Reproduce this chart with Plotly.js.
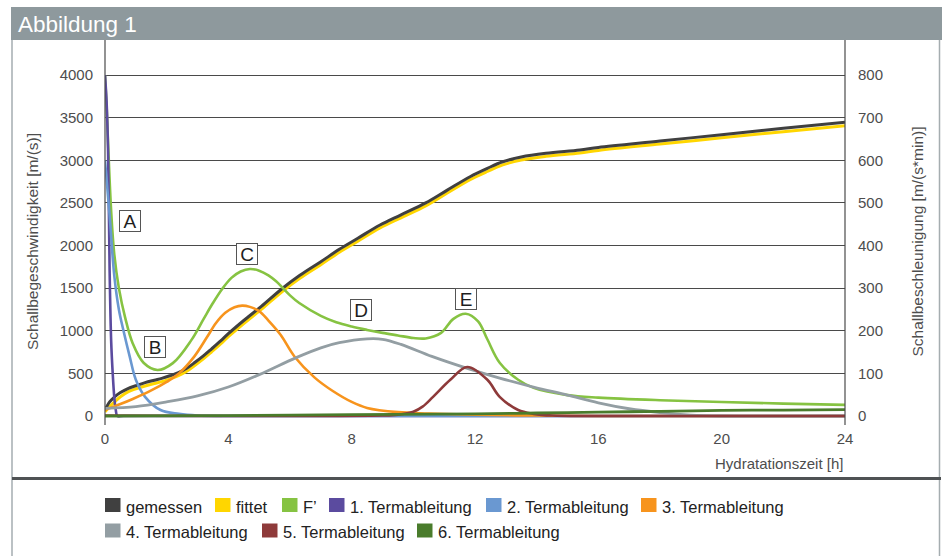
<!DOCTYPE html>
<html>
<head>
<meta charset="utf-8">
<script src="https://cdn.plot.ly/plotly-3.0.1.min.js"></script>
<style>
  html, body { margin: 0; padding: 0; background: #ffffff; }
  #chart { width: 943px; height: 556px; }
</style>
</head>
<body>
<div id="chart"></div>
<script>
// ---------- data ----------
const seriesNames = ["gemessen", "fittet", "F’", "1. Termableitung", "2. Termableitung",
                     "3. Termableitung", "4. Termableitung", "5. Termableitung", "6. Termableitung"];
const seriesColors = ["#404040", "#ffd600", "#86c342", "#5b4b9f", "#6a98d1",
                      "#f7941d", "#939ea3", "#8e3a3a", "#4a7c2c"];

// Schallgeschwindigkeit [m/s] (left axis)
const gemessenT = [0, 0.15, 0.32, 0.5, 0.76, 1.0, 1.3, 1.6, 1.84, 2.1, 2.38, 2.65, 2.92, 3.2, 3.46, 3.75, 4.0, 4.5, 5.07, 5.73, 6.32, 7.0, 7.6, 8.2, 8.92, 9.6, 10.4, 11.1, 11.84, 12.4, 12.9, 13.5, 14.3, 15.4, 16, 18, 20, 22, 24];
const gemessenV = [70, 165, 226, 275, 325, 355, 391, 420, 442, 472, 508, 560, 630, 708, 788, 880, 965, 1120, 1285, 1490, 1650, 1810, 1955, 2085, 2240, 2360, 2500, 2650, 2807, 2905, 2982, 3038, 3081, 3120, 3150, 3225, 3300, 3375, 3445];
const fittetT = gemessenT;
const fittetV = [50, 110, 168, 225, 285, 318, 352, 382, 403, 435, 473, 525, 595, 673, 753, 845, 930, 1085, 1250, 1455, 1615, 1775, 1920, 2050, 2205, 2325, 2465, 2615, 2772, 2868, 2945, 3003, 3046, 3085, 3115, 3190, 3263, 3335, 3405];

// Schallbeschleunigung [m/(s*min)] (right axis)
const fStrichT = [0, 0.05, 0.1, 0.2, 0.3, 0.45, 0.65, 0.9, 1.25, 1.7, 2.2, 2.8, 3.2, 3.5, 3.8, 4.1, 4.4, 4.7, 5.0, 5.3, 5.55, 5.77, 6.0, 6.3, 7.0, 7.5, 8.0, 8.5, 9.0, 9.5, 10.0, 10.4, 10.9, 11.3, 11.7, 12.1, 12.4, 12.8, 13.4, 13.9, 15, 16, 18, 20, 22, 24];
const fStrichV = [800, 730, 640, 480, 380, 300, 232, 170, 125, 108, 124, 178, 228, 265, 298, 324, 339, 345, 341, 330, 316, 300, 283, 265, 235, 220, 210, 202, 195, 189, 183, 182, 195, 228, 240, 222, 180, 125, 85, 66, 49, 43, 37, 33, 29, 26];

const abl1T = [0, 0.05, 0.1, 0.15, 0.2, 0.25, 0.3, 0.35, 0.4, 0.6, 24];
const abl1V = [800, 740, 620, 340, 175, 100, 45, 14, 0, 0, 0];

const abl2T = [0, 0.15, 0.3, 0.45, 0.6, 0.8, 1.0, 1.3, 1.8, 2.4, 3, 4, 24];
const abl2V = [600, 470, 330, 250, 200, 140, 85, 45, 14, 5, 1, 0, 0];

const abl3T = [0, 0.5, 0.9, 1.5, 2.0, 2.4, 2.9, 3.3, 3.6, 3.9, 4.2, 4.45, 4.7, 5.0, 5.3, 5.7, 6.15, 6.8, 7.4, 8.0, 8.5, 9.5, 10.5, 12, 14, 16, 24];
const abl3V = [14, 28, 40, 60, 80, 100, 140, 184, 218, 242, 255, 259, 256, 246, 224, 190, 139, 90, 58, 33, 19, 9, 6, 3, 1, 0, 0];

const abl4T = [0, 1, 2, 3, 4, 5, 6.2, 7.0, 7.6, 8.5, 9.0, 9.6, 10.6, 11.7, 12.8, 13.9, 15, 16, 17, 18, 19, 20, 24];
const abl4V = [18, 22, 33, 47, 68, 97, 137, 160, 172, 181, 180, 168, 140, 113, 89, 68, 49, 31, 17, 8, 2, 0, 0];

const abl5T = [0, 9, 9.5, 10, 10.3, 10.64, 11.2, 11.75, 12.4, 12.8, 13.4, 13.9, 14.5, 16, 24];
const abl5V = [1, 1, 3, 10, 22, 45, 85, 115, 85, 45, 14, 5, 1, 0, 0];

const abl6T = [0, 4, 8, 12, 14, 16, 18, 20, 22, 24];
const abl6V = [0, 1, 3, 5, 7, 9, 11, 13, 14, 15];

// axis ticks / labels
const xTicks = [0, 4, 8, 12, 16, 20, 24];
const yLeftTicks = [0, 500, 1000, 1500, 2000, 2500, 3000, 3500, 4000];
const yRightTicks = [0, 100, 200, 300, 400, 500, 600, 700, 800];
const markerLabels = ["A", "B", "C", "D", "E"];
const markerX = [0.81, 1.61, 4.59, 8.29, 11.72];
const markerY = [2287, 809, 1900, 1243, 1372];

// ---------- geometry helpers (layout only) ----------
const W = 943, H = 556;
const PL = 105, PR = 845, PT = 58, PB = 425;
const px2x = p => (p - PL) / (PR - PL);
const px2y = p => (PB - p) / (PB - PT);

const allSeries = [
  [gemessenT, gemessenV, 'y', 3],
  [fittetT, fittetV, 'y', 3],
  [fStrichT, fStrichV, 'y2', 2.6],
  [abl1T, abl1V, 'y2', 2.6],
  [abl2T, abl2V, 'y2', 2.6],
  [abl3T, abl3V, 'y2', 2.6],
  [abl4T, abl4V, 'y2', 2.8],
  [abl5T, abl5V, 'y2', 2.6],
  [abl6T, abl6V, 'y2', 2.8]
];

// draw fittet below gemessen
const drawOrder = [1, 0, 2, 3, 4, 5, 6, 7, 8];
const traces = drawOrder.map(i => ({
  type: 'scatter',
  mode: 'lines',
  name: seriesNames[i],
  x: allSeries[i][0],
  y: allSeries[i][1],
  yaxis: allSeries[i][2],
  line: { color: seriesColors[i], width: allSeries[i][3], shape: 'spline', smoothing: 1.0 },
  showlegend: false,
  hoverinfo: 'skip'
}));

const shapes = [];
const annotations = [];

// header band
shapes.push({ type: 'rect', xref: 'paper', yref: 'paper', layer: 'below',
  x0: px2x(11), x1: px2x(942), y0: px2y(40), y1: px2y(7),
  fillcolor: '#8e999d', line: { width: 0 } });
// frame lines
shapes.push({ type: 'line', xref: 'paper', yref: 'paper', x0: px2x(12), x1: px2x(12), y0: px2y(40), y1: px2y(556),
  line: { color: '#a5adb0', width: 1.5 } });
shapes.push({ type: 'line', xref: 'paper', yref: 'paper', x0: px2x(939.5), x1: px2x(939.5), y0: px2y(40), y1: px2y(556),
  line: { color: '#a5adb0', width: 1.5 } });
shapes.push({ type: 'line', xref: 'paper', yref: 'paper', x0: px2x(12), x1: px2x(941), y0: px2y(478.5), y1: px2y(478.5),
  line: { color: '#4f5254', width: 3 } });
// y axis lines (extend up to header)
shapes.push({ type: 'line', xref: 'paper', yref: 'paper', x0: 0, x1: 0, y0: 0, y1: px2y(40),
  line: { color: '#4a4a4a', width: 1.2 } });
shapes.push({ type: 'line', xref: 'paper', yref: 'paper', x0: 1, x1: 1, y0: 0, y1: px2y(40),
  line: { color: '#4a4a4a', width: 1.2 } });

// x axis title (right aligned under axis)
annotations.push({ xref: 'paper', yref: 'paper', x: 1, y: px2y(463), xanchor: 'right', yanchor: 'middle',
  text: 'Hydratationszeit [h]', showarrow: false,
  font: { family: 'Liberation Sans, Arial, sans-serif', size: 15, color: '#4d4d4d' } });

// boxed markers A-E
markerLabels.forEach((t, i) => {
  annotations.push({ xref: 'x', yref: 'y', x: markerX[i], y: markerY[i], text: t, showarrow: false,
    xanchor: 'center', yanchor: 'middle', width: 20, height: 20, borderpad: 0,
    bordercolor: '#555555', borderwidth: 1, bgcolor: '#ffffff',
    font: { family: 'Liberation Sans, Arial, sans-serif', size: 19, color: '#1e1e1e' } });
});

// legend (two rows, square swatches)
const legRows = [0, 0, 0, 0, 0, 0, 1, 1, 1];
const legSqX = [105, 215, 282, 329, 486, 641, 105, 262, 417];
const legRowY = [505, 530.5];
seriesNames.forEach((n, i) => {
  const cy = legRowY[legRows[i]];
  const sx = legSqX[i];
  shapes.push({ type: 'rect', xref: 'paper', yref: 'paper',
    x0: px2x(sx), x1: px2x(sx + 15.5), y0: px2y(cy + 7), y1: px2y(cy - 7),
    fillcolor: seriesColors[i], line: { width: 0 } });
  annotations.push({ xref: 'paper', yref: 'paper', x: px2x(sx + 19), y: px2y(cy + 1.5),
    xanchor: 'left', yanchor: 'middle', text: n, showarrow: false,
    font: { family: 'Liberation Sans, Arial, sans-serif', size: 16.5, color: '#222222' } });
});

const axisFont = { family: 'Liberation Sans, Arial, sans-serif', size: 15, color: '#4d4d4d' };
const layout = {
  width: W, height: H,
  margin: { l: PL, r: W - PR, t: PT, b: H - PB, pad: 0 },
  paper_bgcolor: '#ffffff',
  plot_bgcolor: '#ffffff',
  showlegend: false,
  title: { text: 'Abbildung 1', xref: 'container', yref: 'container', x: 18 / W, xanchor: 'left',
           y: 1 - 24 / H, yanchor: 'middle',
           font: { family: 'Liberation Sans, Arial, sans-serif', size: 22.5, color: '#ffffff' } },
  xaxis: {
    range: [0, 24], tickvals: xTicks, ticktext: xTicks.map(String),
    showgrid: false, zeroline: false, showline: false, ticks: '',
    ticklabelstandoff: 3, tickfont: axisFont, fixedrange: true
  },
  yaxis: {
    range: [-(PB - 416) / 0.08525, (416 - PT) / 0.08525],
    tickvals: yLeftTicks, ticktext: yLeftTicks.map(String),
    showgrid: true, gridcolor: '#4a4a4a', gridwidth: 1,
    zeroline: false, showline: false, ticks: '',
    ticklabelstandoff: 11, tickfont: axisFont,
    title: { text: 'Schallbegeschwindigkeit [m/(s)]', standoff: 17,
             font: { family: 'Liberation Sans, Arial, sans-serif', size: 15.5, color: '#4d4d4d' } }
  },
  yaxis2: {
    overlaying: 'y', side: 'right',
    range: [-(PB - 416) / 0.08525 / 5, (416 - PT) / 0.08525 / 5],
    tickvals: yRightTicks, ticktext: yRightTicks.map(String),
    showgrid: false, zeroline: false, showline: false, ticks: '',
    ticklabelstandoff: 12, tickfont: axisFont,
    title: { text: 'Schallbeschleunigung [m/(s*min)]', standoff: 30,
             font: { family: 'Liberation Sans, Arial, sans-serif', size: 15.5, color: '#4d4d4d' } }
  },
  shapes: shapes,
  annotations: annotations
};

Plotly.newPlot('chart', traces, layout, { staticPlot: true, displayModeBar: false });
</script>
</body>
</html>
